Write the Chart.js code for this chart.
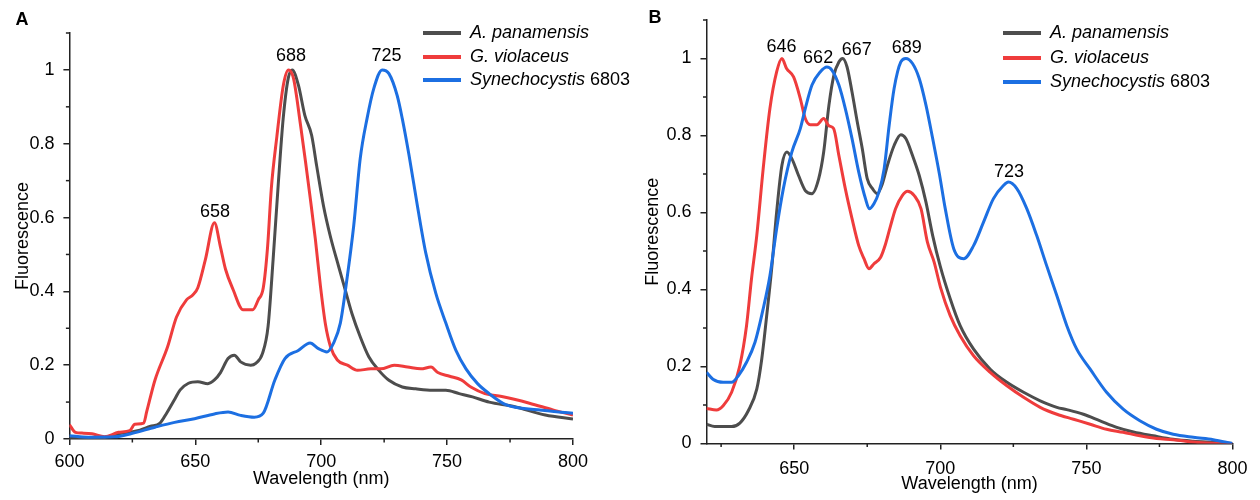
<!DOCTYPE html>
<html>
<head>
<meta charset="utf-8">
<script src="https://cdn.jsdelivr.net/npm/chart.js@4.4.1/dist/chart.umd.min.js"></script>
<style>
    body { margin: 0; background: #fff; }
    #wrap { position: relative; width: 1260px; height: 500px; }
    canvas { position: absolute; top: 0; }
    #chartA { left: 0; }
    #chartB { left: 630px; }
</style>
</head>
<body>
<div id="wrap">
    <canvas id="chartA" width="630" height="500"></canvas>
    <canvas id="chartB" width="630" height="500"></canvas>
</div>
<script>
// legend names: italic part, plain part
const seriesNames = [['A. panamensis', ''], ['G. violaceus', ''], ['Synechocystis', ' 6803']];
const seriesColors = ['#4d4d4d', '#ef3c3c', '#1c6fe2'];

// Panel A
const aGreyNm = [600, 607, 614, 620, 625, 628, 632, 636, 638.6, 642, 644, 647.3, 651, 655, 657.6, 660, 663, 665.5, 668, 672, 674, 676.7, 678.9, 680.9, 682.9, 684.9, 686.9, 688.5, 690.9, 693.5, 696.2, 698.2, 700.9, 703.6, 706.9, 709.5, 712.2, 715.5, 718.9, 722.9, 726.9, 732.2, 737.5, 744.2, 749.5, 754.8, 760.1, 766.7, 776.5, 789, 800];
const aGreyVal = [0.005, 0.004, 0.005, 0.015, 0.02, 0.024, 0.034, 0.043, 0.07, 0.11, 0.133, 0.151, 0.155, 0.15, 0.16, 0.18, 0.218, 0.227, 0.209, 0.2, 0.205, 0.232, 0.305, 0.486, 0.686, 0.868, 0.977, 1.0, 0.96, 0.877, 0.823, 0.74, 0.632, 0.55, 0.468, 0.405, 0.34, 0.277, 0.223, 0.186, 0.159, 0.141, 0.136, 0.132, 0.132, 0.123, 0.114, 0.1, 0.088, 0.065, 0.054];

const aRedNm = [600, 602.4, 605, 609, 614, 619.5, 624, 626, 629.5, 630.7, 634, 639, 642.5, 646.5, 649, 651, 654, 657.6, 660, 662, 665, 669, 672.8, 675, 677, 678.7, 680.2, 682.4, 685, 687, 689, 691.8, 693.8, 695.7, 697.7, 699.7, 701.7, 703.7, 706.4, 710.4, 714.4, 719.7, 723.7, 729, 734.3, 739.6, 743.6, 746.3, 751, 755.6, 759.6, 765, 771.7, 782.7, 792, 800];
const aRedVal = [0.039, 0.018, 0.016, 0.014, 0.006, 0.018, 0.023, 0.04, 0.043, 0.074, 0.16, 0.25, 0.33, 0.377, 0.39, 0.41, 0.486, 0.586, 0.52, 0.46, 0.405, 0.35, 0.35, 0.377, 0.41, 0.52, 0.68, 0.82, 0.96, 1.0, 0.977, 0.85, 0.75, 0.65, 0.54, 0.414, 0.31, 0.25, 0.214, 0.2, 0.186, 0.19, 0.19, 0.2, 0.195, 0.19, 0.195, 0.18, 0.17, 0.16, 0.14, 0.123, 0.115, 0.097, 0.079, 0.065];

const aBlueNm = [600, 607.6, 618, 624.7, 634, 641.8, 649.7, 657.6, 663, 668, 673.4, 677, 681.6, 685.6, 690.9, 695.6, 698.9, 702.3, 704.9, 707.6, 710.2, 712.9, 715.5, 718.2, 720.9, 724.2, 726.9, 730.2, 732.2, 734.9, 738.2, 741.5, 745.5, 749.5, 753.5, 757.5, 762.1, 766.7, 773.3, 786, 800];
const aBlueVal = [0.009, 0.005, 0.006, 0.015, 0.032, 0.045, 0.055, 0.068, 0.073, 0.064, 0.059, 0.07, 0.16, 0.218, 0.24, 0.26, 0.245, 0.236, 0.26, 0.314, 0.432, 0.577, 0.76, 0.868, 0.95, 1.0, 0.99, 0.93, 0.868, 0.768, 0.632, 0.505, 0.395, 0.314, 0.24, 0.19, 0.15, 0.123, 0.093, 0.079, 0.07];

const aPeakText = ['658', '688', '725'];
const aPeakNm = [657.8, 688, 725.9];
const aPeakLevel = [0.614, 1.038, 1.038];

// Panel B
const bGreyNm = [620, 622.8, 628.6, 631.4, 634.3, 637.2, 638.9, 640.6, 642.3, 644, 645.8, 647.5, 649.2, 651.5, 653.8, 656.1, 658.4, 660.1, 661.9, 663.6, 665.3, 666.6, 668.1, 669.8, 671.6, 673.3, 675, 676.8, 678.4, 680.2, 681.9, 684.2, 686.5, 688.2, 690.5, 692.8, 695.1, 697.4, 700, 703.4, 706.8, 711.4, 717.1, 722.8, 728.5, 734.2, 739.9, 743.3, 749, 754.7, 760.4, 766.1, 772.9, 779.7, 786.6, 793.4, 800];
const bGreyVal = [0.05, 0.044, 0.044, 0.053, 0.085, 0.141, 0.219, 0.332, 0.454, 0.601, 0.722, 0.757, 0.74, 0.696, 0.657, 0.649, 0.688, 0.757, 0.879, 0.957, 0.991, 1.0, 0.978, 0.913, 0.835, 0.766, 0.688, 0.662, 0.649, 0.675, 0.722, 0.774, 0.802, 0.792, 0.748, 0.696, 0.627, 0.54, 0.46, 0.376, 0.306, 0.245, 0.193, 0.159, 0.133, 0.111, 0.094, 0.088, 0.076, 0.059, 0.042, 0.03, 0.02, 0.011, 0.006, 0.003, 0.0];

const bRedNm = [620, 623.4, 625.7, 628.6, 631.4, 633.7, 635.4, 637.2, 639.4, 641.7, 644, 645.8, 647.4, 649.8, 652.1, 653.8, 655.5, 657.8, 660.1, 661.9, 663.5, 665.3, 667.5, 669.8, 672.1, 673.9, 675.6, 677.3, 679.6, 681.3, 683, 684.7, 687, 688.8, 691.1, 693.4, 695.6, 697.9, 700.1, 703.4, 706.8, 711.4, 717.1, 722.8, 728.5, 734.2, 739.9, 745.6, 751.3, 756.9, 762.6, 768.3, 774, 779.7, 786.6, 791, 800];
const bRedVal = [0.091, 0.087, 0.098, 0.133, 0.202, 0.306, 0.428, 0.54, 0.714, 0.87, 0.965, 1.0, 0.974, 0.952, 0.896, 0.844, 0.828, 0.828, 0.844, 0.825, 0.818, 0.748, 0.662, 0.584, 0.514, 0.48, 0.454, 0.467, 0.484, 0.519, 0.566, 0.61, 0.644, 0.655, 0.644, 0.61, 0.523, 0.471, 0.405, 0.332, 0.28, 0.228, 0.185, 0.15, 0.12, 0.094, 0.076, 0.063, 0.05, 0.037, 0.029, 0.02, 0.013, 0.01, 0.004, 0.001, 0.0];

const bBlueNm = [620, 622.2, 625.7, 628.6, 630.9, 633.7, 636.6, 639.4, 641.7, 644, 646.3, 649.2, 652.1, 653.8, 656.1, 658.9, 661.2, 662.9, 665.3, 667.5, 669.8, 672.1, 674.4, 675.7, 677.3, 679, 680.8, 682.5, 684.2, 686.5, 688.2, 690.5, 692.8, 695.1, 697.4, 699.7, 701.7, 704.6, 708, 711.4, 714.8, 718.2, 721.6, 723.3, 726.2, 729.6, 733, 736.4, 739.9, 743.3, 746.7, 751.3, 756.9, 762.6, 768.3, 774, 779.7, 786.6, 793.4, 800];
const bBlueVal = [0.185, 0.167, 0.159, 0.159, 0.176, 0.211, 0.263, 0.35, 0.436, 0.558, 0.662, 0.757, 0.818, 0.87, 0.931, 0.965, 0.978, 0.97, 0.931, 0.87, 0.792, 0.705, 0.636, 0.61, 0.623, 0.653, 0.714, 0.826, 0.922, 0.991, 1.0, 0.987, 0.948, 0.879, 0.792, 0.7, 0.61, 0.506, 0.48, 0.514, 0.575, 0.636, 0.67, 0.679, 0.662, 0.61, 0.54, 0.462, 0.384, 0.306, 0.245, 0.193, 0.133, 0.089, 0.059, 0.037, 0.024, 0.016, 0.01, 0.0];

const bPeakText = ['646', '662', '667', '689', '723'];
const bPeakNm = [645.7, 658.2, 671.4, 688.5, 723.5];
const bPeakLevel = [1.031, 1.0, 1.022, 1.028, 0.706];

const yTicksMinor = [0.1, 0.3, 0.5, 0.7, 0.9, 1.1];
const xTicksMinor = [625, 675, 725, 775];

const FONT = '"Liberation Sans", Arial, sans-serif';
const axisColor = '#222';

function toPoints(nm, val) {
    return nm.map((x, i) => ({ x: x, y: val[i] }));
}

// minor ticks, peak labels, legend and panel letter
const decorPlugin = {
    id: 'decor',
    afterDraw(chart, args, opts) {
        const ctx = chart.ctx;
        const xs = chart.scales.x;
        const ys = chart.scales.y;
        ctx.save();
        ctx.strokeStyle = axisColor;
        ctx.lineWidth = 1.5;
        xTicksMinor.forEach(v => {
            if (v < xs.min) return;
            const px = xs.getPixelForValue(v);
            ctx.beginPath();
            ctx.moveTo(px, ys.bottom);
            ctx.lineTo(px, ys.bottom + 3.5);
            ctx.stroke();
        });
        yTicksMinor.forEach(v => {
            const py = ys.getPixelForValue(v);
            ctx.beginPath();
            ctx.moveTo(xs.left - 3.5, py);
            ctx.lineTo(xs.left, py);
            ctx.stroke();
        });

        ctx.fillStyle = '#000';
        ctx.font = '18px ' + FONT;
        ctx.textAlign = 'center';
        ctx.textBaseline = 'middle';
        opts.peakText.forEach((t, i) => {
            ctx.fillText(t, xs.getPixelForValue(opts.peakNm[i]), ys.getPixelForValue(opts.peakLevel[i]));
        });

        ctx.textAlign = 'left';
        seriesNames.forEach((name, i) => {
            const ly = opts.legendRows[i];
            ctx.strokeStyle = seriesColors[i];
            ctx.lineWidth = 4;
            ctx.beginPath();
            ctx.moveTo(opts.legendX, ly);
            ctx.lineTo(opts.legendX + 38, ly);
            ctx.stroke();
            ctx.font = 'italic 18px ' + FONT;
            const tx = opts.legendX + 47;
            ctx.fillText(name[0], tx, ly);
            if (name[1]) {
                const w = ctx.measureText(name[0]).width;
                ctx.font = '18px ' + FONT;
                ctx.fillText(name[1], tx + w, ly);
            }
        });

        ctx.font = 'bold 18px ' + FONT;
        ctx.textAlign = 'center';
        ctx.fillText(opts.letter, opts.letterX, opts.letterY);
        ctx.restore();
    }
};

function makePanel(canvasId, p) {
    const tickFont = { family: FONT, size: 18 };
    return new Chart(document.getElementById(canvasId), {
        type: 'line',
        data: {
            datasets: [
                { label: seriesNames[0].join(''), data: toPoints(p.grey[0], p.grey[1]), borderColor: seriesColors[0], order: 3 },
                { label: seriesNames[1].join(''), data: toPoints(p.red[0], p.red[1]), borderColor: seriesColors[1], order: 2 },
                { label: seriesNames[2].join(''), data: toPoints(p.blue[0], p.blue[1]), borderColor: seriesColors[2], order: 1 }
            ]
        },
        options: {
            responsive: false,
            animation: false,
            devicePixelRatio: 1,
            layout: { padding: { top: p.padTop, right: p.padRight, left: 0, bottom: 0 } },
            elements: {
                point: { radius: 0 },
                line: { borderWidth: 3, cubicInterpolationMode: 'monotone', fill: false }
            },
            plugins: {
                legend: { display: false },
                tooltip: { enabled: false },
                decor: p.decor
            },
            scales: {
                x: {
                    type: 'linear',
                    min: p.xMin,
                    max: 800,
                    afterFit: s => { s.height = p.xHeight; },
                    ticks: { stepSize: 50, includeBounds: false, padding: p.xTickPad, color: '#000', font: tickFont, maxRotation: 0 },
                    grid: { drawOnChartArea: false, drawTicks: true, tickLength: 6, color: axisColor, lineWidth: 1.5 },
                    border: { color: axisColor, width: 1.5 },
                    title: { display: true, text: 'Wavelength (nm)', color: '#000', font: tickFont, padding: { top: 0, bottom: p.xTitlePad } }
                },
                y: {
                    min: 0,
                    max: 1.1,
                    afterFit: s => { s.width = p.yWidth; },
                    ticks: { stepSize: 0.2, includeBounds: false, padding: 9, color: '#000', font: tickFont,
                        callback: v => String(+v.toFixed(1)) },
                    grid: { drawOnChartArea: false, drawTicks: true, tickLength: 6, color: axisColor, lineWidth: 1.5 },
                    border: { color: axisColor, width: 1.5 },
                    title: { display: true, text: 'Fluorescence', color: '#000', font: tickFont, padding: { top: 12, bottom: 0 } }
                }
            }
        },
        plugins: [decorPlugin]
    });
}

makePanel('chartA', {
    grey: [aGreyNm, aGreyVal], red: [aRedNm, aRedVal], blue: [aBlueNm, aBlueVal],
    xMin: 600, padTop: 33, padRight: 57, yWidth: 69.4, xHeight: 61, xTitlePad: 10, xTickPad: 6.5,
    decor: { peakText: aPeakText, peakNm: aPeakNm, peakLevel: aPeakLevel,
        legendX: 423, legendRows: [33, 57, 80], letter: 'A', letterX: 22, letterY: 20 }
});

makePanel('chartB', {
    grey: [bGreyNm, bGreyVal], red: [bRedNm, bRedVal], blue: [bBlueNm, bBlueVal],
    xMin: 620, padTop: 20, padRight: 27.5, yWidth: 76.5, xHeight: 56.5, xTitlePad: 5, xTickPad: 8.5,
    decor: { peakText: bPeakText, peakNm: bPeakNm, peakLevel: bPeakLevel,
        legendX: 373, legendRows: [33, 58, 82], letter: 'B', letterX: 25, letterY: 18 }
});
</script>
</body>
</html>
